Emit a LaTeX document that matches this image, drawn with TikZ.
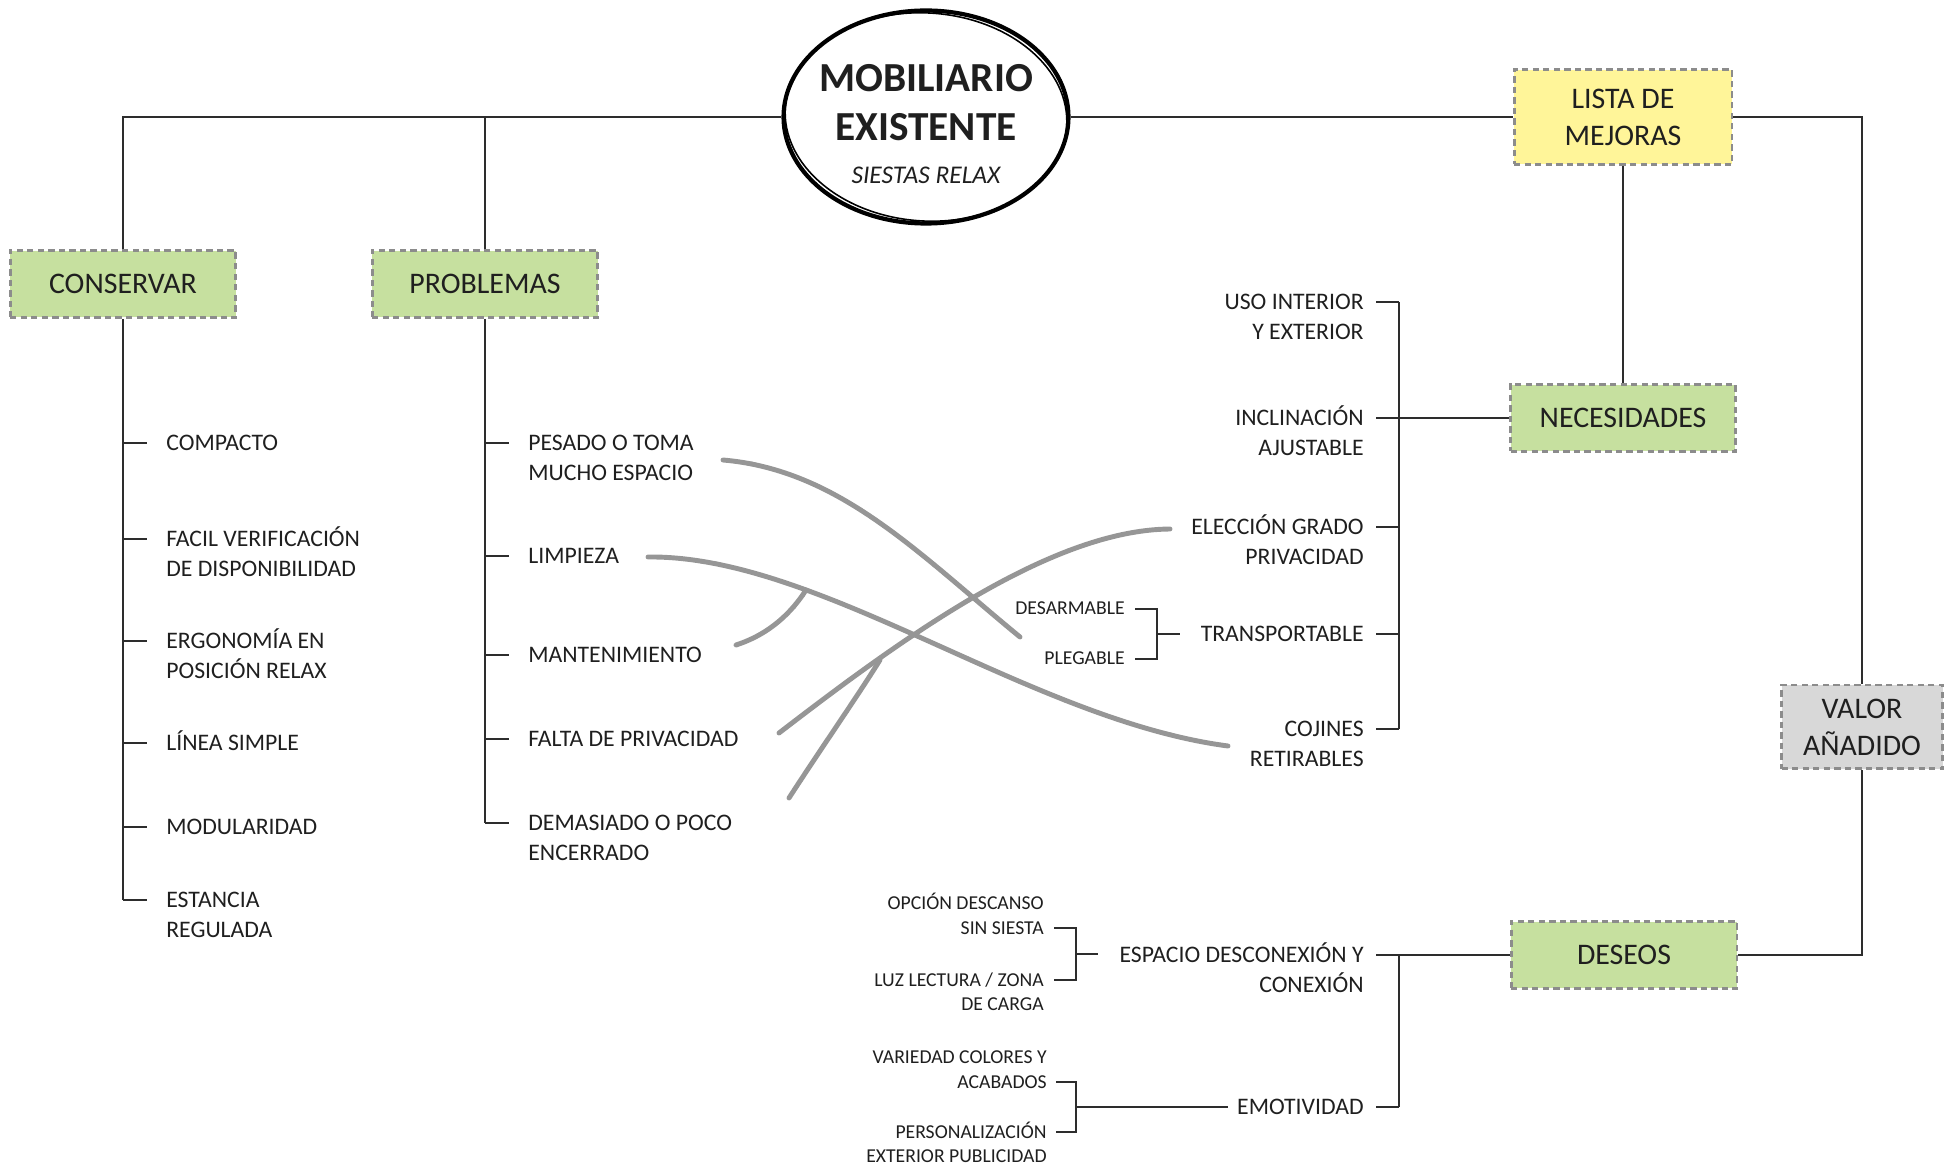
\documentclass[tikz,border=0pt]{standalone}
\usepackage{fontspec}
\setmainfont{Carlito}
\usepackage{tikz}
\usetikzlibrary{positioning, shapes.geometric, decorations.pathmorphing}
\definecolor{lineColor}{RGB}{45,45,45}
\definecolor{boxBorder}{RGB}{140,140,140}
\definecolor{boxGreen}{RGB}{198,224,159}
\definecolor{boxYellow}{RGB}{255,245,153}
\definecolor{boxGray}{RGB}{216,216,216}
\definecolor{sketchGray}{RGB}{150,150,150}
\tikzstyle{sheet} = [x = 0.02cm, y = -0.02cm]
\tikzstyle{branchLine} = [color=lineColor, line width=0.8pt]
\tikzstyle{itemText} = [inner sep=0pt, text=black!88, font=\fontsize{13.5}{17}\selectfont]
\tikzstyle{smallText} = [inner sep=0pt, text=black!88, font=\fontsize{11.2}{14}\selectfont]
\tikzstyle{headBox} = [draw=boxBorder, line width=1.7pt, dash pattern=on 3.6pt off 2.4pt, align=center, inner sep=0pt, text=black!88, font=\fontsize{17}{21}\selectfont, minimum height=1.34cm, minimum width=4.52cm]
\tikzstyle{sketchStroke} = [color=sketchGray, line width=2.8pt, line cap=round]
\tikzstyle{sketchRough} = [color=sketchGray, line width=1pt, decorate, decoration={random steps, segment length=4pt, amplitude=0.8pt}]
\newcommand{\leftItem}[4]{
  \coordinate (#3Tick) at (#1, #2);
  \draw [branchLine] (#3Tick) -- + (24, 0);
  \node [itemText, anchor=base west] (#3) at (#1 + 43, #2 + 7.5) {\begin{tabular}[t]{@{}l@{}}#4\end{tabular}};
}
\newcommand{\rightItem}[4]{
  \coordinate (#3Tick) at (#1, #2);
  \draw [branchLine] (#3Tick) -- + (-23, 0);
  \node [itemText, anchor=base east] (#3) at (#1 - 35, #2 + 7.5) {\begin{tabular}[t]{@{}r@{}}#4\end{tabular}};
}
\newcommand{\smallItem}[5]{
  \node [smallText, anchor=base east] (#3) at (#1, #2 + 6) {\begin{tabular}[#5]{@{}r@{}}#4\end{tabular}};
}
\newcommand{\subBracket}[5]{
  \coordinate (#1Top) at (#2, #3);
  \coordinate (#1Bot) at (#2, #4);
  \coordinate (#1Mid) at (#5, #3/2 + #4/2);
  \draw [branchLine] (#1Top) -| (#1Mid) |- (#1Bot);
}
\newcommand{\sketchCurve}[4]{
  \draw [sketchStroke] #1 .. controls #2 and #3 .. #4;
  \draw [sketchRough] #1 .. controls #2 and #3 .. #4;
}
\begin{document}
\begin{tikzpicture}[sheet]
  \pgfmathsetseed{7}
  \useasboundingbox (0, 0) rectangle (1955, 1168);

  % centre
  \node [draw=black, line width=2.4pt, ellipse, minimum width=5.7cm, minimum height=4.26cm] (mobiliario) at (926, 117) {};
  \draw [line width=0.9pt, rotate around={-4:(mobiliario.center)}] (mobiliario.center) ellipse [x radius=141, y radius=104];
  \node [align=center, inner sep=0pt, text=black!88, font=\fontsize{23.5}{28}\selectfont\bfseries] (mobiliarioText) at (926, 124) {MOBILIARIO\\EXISTENTE\\[-4pt]{\fontsize{14.5}{17}\selectfont\mdseries\itshape SIESTAS RELAX}};

  % heads
  \node [headBox, fill=boxGreen] (conservar) at (123, 284) {CONSERVAR};
  \node [headBox, fill=boxGreen] (problemas) at (485, 284) {PROBLEMAS};
  \node [headBox, fill=boxYellow, minimum width=4.36cm, minimum height=1.9cm] (lista) at (1623, 117) {LISTA DE\\MEJORAS};
  \node [headBox, fill=boxGreen, minimum width=4.5cm] (necesidades) at (1623, 418) {NECESIDADES};
  \node [headBox, fill=boxGray, minimum width=3.22cm, minimum height=1.68cm] (valor) at (1862, 727) {VALOR\\AÑADIDO};
  \node [headBox, fill=boxGreen] (deseos) at (1624, 955) {DESEOS};

  % conservar
  \leftItem{123}{443}{compacto}{COMPACTO}
  \leftItem{123}{539}{facil}{FACIL VERIFICACIÓN\\DE DISPONIBILIDAD}
  \leftItem{123}{641}{ergonomia}{ERGONOMÍA EN\\POSICIÓN RELAX}
  \leftItem{123}{743}{linea}{LÍNEA SIMPLE}
  \leftItem{123}{827}{modularidad}{MODULARIDAD}
  \leftItem{123}{900}{estancia}{ESTANCIA\\REGULADA}
  \draw [branchLine] (conservar.south) -- (estanciaTick);
  \draw [branchLine] (conservar.north) |- (mobiliario.west);

  % problemas
  \leftItem{485}{443}{pesado}{PESADO O TOMA\\MUCHO ESPACIO}
  \leftItem{485}{556}{limpieza}{LIMPIEZA}
  \leftItem{485}{655}{mantenimiento}{MANTENIMIENTO}
  \leftItem{485}{739}{falta}{FALTA DE PRIVACIDAD}
  \leftItem{485}{823}{demasiado}{DEMASIADO O POCO\\ENCERRADO}
  \draw [branchLine] (problemas.south) -- (demasiadoTick);
  \draw [branchLine] (problemas.north) -- (problemas.north |- mobiliario.west);

  % necesidades
  \rightItem{1399}{302}{uso}{USO INTERIOR\\Y EXTERIOR}
  \rightItem{1399}{418}{inclinacion}{INCLINACIÓN\\AJUSTABLE}
  \rightItem{1399}{527}{eleccion}{ELECCIÓN GRADO\\PRIVACIDAD}
  \rightItem{1399}{634}{transportable}{TRANSPORTABLE}
  \rightItem{1399}{729}{cojines}{COJINES\\RETIRABLES}
  \draw [branchLine] (usoTick) -- (cojinesTick);
  \draw [branchLine] (inclinacionTick) -- (necesidades.west);
  \smallItem{1125}{609}{desarmable}{DESARMABLE}{b}
  \smallItem{1125}{659}{plegable}{PLEGABLE}{t}
  \subBracket{transporte}{1135}{609}{659}{1157}
  \draw [branchLine] (transporteMid) -- + (23, 0);

  % deseos
  \rightItem{1399}{955}{espacio}{ESPACIO DESCONEXIÓN Y\\CONEXIÓN}
  \rightItem{1399}{1107}{emotividad}{EMOTIVIDAD}
  \draw [branchLine] (espacioTick) -- (deseos.west);
  \draw [branchLine] (espacioTick) -- (emotividadTick);
  \smallItem{1044}{928}{opcion}{OPCIÓN DESCANSO\\SIN SIESTA}{b}
  \smallItem{1044}{980}{luz}{LUZ LECTURA / ZONA\\DE CARGA}{t}
  \subBracket{espacioSub}{1054}{928}{980}{1076}
  \draw [branchLine] (espacioSubMid) -- + (22, 0);
  \smallItem{1047}{1082}{variedad}{VARIEDAD COLORES Y\\ACABADOS}{b}
  \smallItem{1047}{1132}{personalizacion}{PERSONALIZACIÓN\\EXTERIOR PUBLICIDAD}{t}
  \subBracket{emotSub}{1056}{1082}{1132}{1076}
  \draw [branchLine] (emotSubMid) -- + (152, 0);

  % frame
  \draw [branchLine] (mobiliario.east) -- (lista.west);
  \draw [branchLine] (lista.south) -- (necesidades.north);
  \draw [branchLine] (lista.east) -| (valor.north);
  \draw [branchLine] (valor.south) |- (deseos.east);

  % sketch
  \sketchCurve{(723,460)}{(840,470)}{(920,555)}{(1020,637)}
  \sketchCurve{(648,557)}{(820,555)}{(1030,720)}{(1228,746)}
  \sketchCurve{(736,645)}{(770,634)}{(792,612)}{(806,590)}
  \sketchCurve{(779,733)}{(900,640)}{(1050,530)}{(1170,529)}
  \sketchCurve{(789,798)}{(820,750)}{(855,700)}{(880,660)}
\end{tikzpicture}
\end{document}
